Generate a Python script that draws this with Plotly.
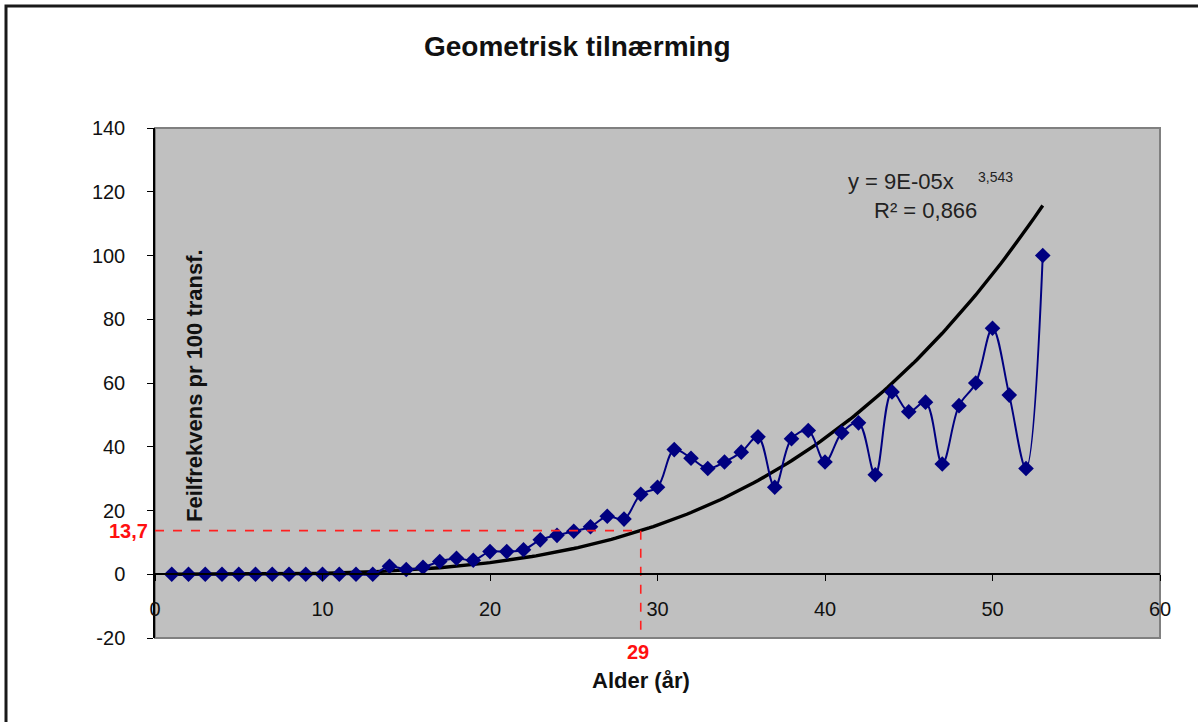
import plotly.graph_objects as go

# ---- data ----
age = list(range(1, 54))
freq = [0, 0, 0, 0, 0, 0, 0, 0, 0, 0, 0, 0, 0,
        2.5, 1.5, 2.2, 4.0, 5.0, 4.4, 7.1, 7.1, 7.7, 10.8, 12.2, 13.5, 14.9, 18.2, 17.3,
        25.1, 27.3, 39.1, 36.4, 33.2, 35.2, 38.3, 43.1, 27.3, 42.5, 45.1, 35.2,
        44.4, 47.5, 31.2, 57.2, 51.0, 54.0, 34.6, 52.9, 60.0, 77.2, 56.2, 33.2, 100.0]

fit_coef = 9e-05
fit_exp = 3.543
fit_x = [1 + i * 0.25 for i in range(0, 209)]
fit_y = [fit_coef * x ** fit_exp for x in fit_x]

ref_x = 29
ref_y = 13.7

x_ticks = [0, 10, 20, 30, 40, 50, 60]
y_ticks = [-20, 0, 20, 40, 60, 80, 100, 120, 140]

# ---- layout helpers (pixel geometry) ----
W, H = 1198, 722
L, R, T, B = 155, 1160, 128, 638


def px(xp):
    return (xp - L) / (R - L)


def py(yp):
    return (B - yp) / (B - T)


FONT = "Liberation Sans, Arial, sans-serif"

fig = go.Figure()

fig.add_trace(go.Scatter(
    x=fit_x, y=fit_y, mode="lines",
    line=dict(color="black", width=3.4),
    hoverinfo="skip", showlegend=False))

fig.add_trace(go.Scatter(
    x=age, y=freq, mode="lines+markers",
    line=dict(color="#000080", width=2, shape="spline", smoothing=1.0),
    marker=dict(symbol="diamond", size=12, color="#000080"),
    showlegend=False))

# red reference lines
fig.add_trace(go.Scatter(
    x=[0, ref_x, ref_x], y=[ref_y, ref_y, -20], mode="lines",
    line=dict(color="#FF2020", width=1.6, dash="dash"),
    hoverinfo="skip", showlegend=False))


def note(text, x, y, size, color="#111", xanchor="center", xref="paper", yref="paper",
         angle=0, xshift=0):
    return dict(text=text, xref=xref, yref=yref, x=x, y=y, xanchor=xanchor,
                yanchor="middle", textangle=angle, showarrow=False, xshift=xshift,
                font=dict(size=size, color=color, family=FONT))


fig.update_layout(
    width=W, height=H,
    margin=dict(l=L, r=W - R, t=T, b=H - B),
    paper_bgcolor="white",
    plot_bgcolor="#C0C0C0",
    font=dict(family=FONT, size=20, color="#111"),
    xaxis=dict(range=[0, 60], tickvals=x_ticks, ticktext=[str(v) for v in x_ticks],
               anchor="free", position=0.125,
               showline=True, linecolor="black", linewidth=1.5,
               ticks="outside", ticklen=6, tickcolor="black", tickwidth=1,
               ticklabelstandoff=11,
               showgrid=False, zeroline=False,
               tickfont=dict(size=20, family=FONT, color="#111")),
    yaxis=dict(range=[-20, 140], tickvals=y_ticks, ticktext=[str(v) for v in y_ticks],
               showline=True, linecolor="black", linewidth=1.5,
               ticks="outside", ticklen=6, tickcolor="black", tickwidth=1,
               ticklabelstandoff=18,
               showgrid=False, zeroline=False,
               tickfont=dict(size=20, family=FONT, color="#111")),
    shapes=[
        dict(type="rect", xref="paper", yref="paper", x0=0, x1=1, y0=0, y1=1,
             line=dict(color="#808080", width=2), layer="below"),
        dict(type="rect", xref="paper", yref="paper",
             x0=px(6), x1=px(1230), y0=py(760), y1=py(6),
             line=dict(color="#1a1a1a", width=3), layer="below"),
    ],
    annotations=[
        note("<b>Geometrisk tilnærming</b>", px(577), py(47), 28),
        note("<b>Feilfrekvens pr 100 transf.</b>", px(194), py(386), 22, angle=-90),
        note("<b>Alder (år)</b>", px(641), py(680), 22),
        note("<b>29</b>", ref_x, py(652), 20, color="#FF1010", xref="x", xshift=-3),
        note("<b>13,7</b>", px(150), ref_y, 20, color="#FF1010", xanchor="right", yref="y"),
        note("y = 9E-05x", px(846), py(182), 22, color="#222", xanchor="left"),
        note("3,543", px(976), py(177), 14, color="#222", xanchor="left"),
        note("R² = 0,866", px(872), py(210), 22, color="#222", xanchor="left"),
    ],
)

fig.write_html("out.html")
